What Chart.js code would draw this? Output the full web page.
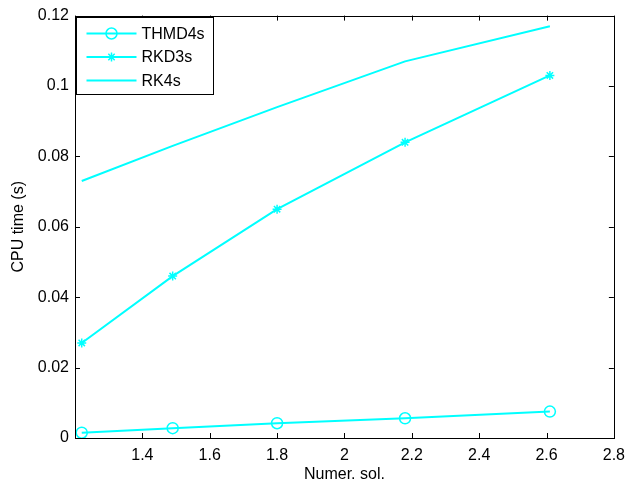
<!DOCTYPE html>
<html>
<head>
<meta charset="utf-8">
<script src="https://cdn.jsdelivr.net/npm/chart.js@4.4.0/dist/chart.umd.min.js"></script>
<style>
  html, body { margin: 0; padding: 0; background: #fff; }
  #wrap { width: 633px; height: 486px; }
</style>
</head>
<body>
<div id="wrap"><canvas id="cpuChart" width="633" height="486"></canvas></div>
<script>
// data
const xValues = [1.22, 1.49, 1.80, 2.18, 2.61];
const thmd4s = [0.0015, 0.0028, 0.0042, 0.0056, 0.0075];
const rkd3s = [0.027, 0.046, 0.065, 0.084, 0.103];
const rk4s = [0.073, 0.083, 0.094, 0.107, 0.117];
const seriesNames = ['THMD4s', 'RKD3s', 'RK4s'];

const cyan = '#00ffff';
const fontFamily = '"Liberation Sans", Arial, Helvetica, sans-serif';
const fontSize = 16;

function toPoints(ys) {
    return xValues.map((x, i) => ({ x: x, y: ys[i] }));
}

// box round the axes with ticks pointing inwards (matlab style)
const frame = {
    id: 'frame',
    afterDatasetsDraw(chart) {
        const { ctx, chartArea: a, scales } = chart;
        ctx.save();
        ctx.strokeStyle = '#000';
        ctx.lineWidth = 1;
        ctx.beginPath();
        const len = 5;
        scales.x.ticks.forEach(t => {
            const px = Math.round(scales.x.getPixelForValue(t.value)) + 0.5;
            ctx.moveTo(px, a.bottom); ctx.lineTo(px, a.bottom - len);
            ctx.moveTo(px, a.top); ctx.lineTo(px, a.top + len);
        });
        scales.y.ticks.forEach(t => {
            const py = Math.round(scales.y.getPixelForValue(t.value)) + 0.5;
            ctx.moveTo(a.left, py); ctx.lineTo(a.left + len, py);
            ctx.moveTo(a.right, py); ctx.lineTo(a.right - len, py);
        });
        ctx.stroke();
        ctx.strokeRect(Math.round(a.left) + 0.5, Math.round(a.top) + 0.5,
            Math.round(a.right - a.left), Math.round(a.bottom - a.top));
        ctx.restore();
    }
};

// legend box in the upper left corner
const legendBox = {
    id: 'legendBox',
    afterDraw(chart) {
        const { ctx, chartArea: a } = chart;
        const x0 = Math.round(a.left) + 1.5, y0 = Math.round(a.top) + 1.5;
        ctx.save();
        ctx.fillStyle = '#fff';
        ctx.fillRect(x0, y0, 137, 77);
        ctx.strokeStyle = '#000';
        ctx.lineWidth = 1;
        ctx.strokeRect(x0, y0, 137, 77);
        ctx.font = fontSize + 'px ' + fontFamily;
        ctx.textBaseline = 'middle';
        chart.data.datasets.forEach((ds, i) => {
            const y = y0 + 16 + i * 23.5;
            ctx.strokeStyle = ds.borderColor;
            ctx.lineWidth = ds.borderWidth;
            ctx.beginPath();
            ctx.moveTo(x0 + 10, y); ctx.lineTo(x0 + 60, y);
            ctx.stroke();
            const mx = x0 + 35;
            ctx.lineWidth = 1.5;
            if (ds.pointStyle === 'circle' && ds.pointRadius > 0) {
                ctx.beginPath();
                ctx.arc(mx, y, ds.pointRadius, 0, Math.PI * 2);
                ctx.stroke();
            } else if (ds.pointStyle === 'star' && ds.pointRadius > 0) {
                const r = ds.pointRadius;
                ctx.beginPath();
                for (let k = 0; k < 4; k++) {
                    const ang = k * Math.PI / 4;
                    ctx.moveTo(mx - r * Math.cos(ang), y - r * Math.sin(ang));
                    ctx.lineTo(mx + r * Math.cos(ang), y + r * Math.sin(ang));
                }
                ctx.stroke();
            }
            ctx.fillStyle = '#000';
            ctx.fillText(ds.label, x0 + 65, y + 1);
        });
        ctx.restore();
    }
};

const config = {
    type: 'line',
    data: {
        datasets: [
            {
                label: seriesNames[0],
                data: toPoints(thmd4s),
                borderColor: cyan,
                borderWidth: 2,
                pointStyle: 'circle',
                pointRadius: 5.5,
                pointBorderWidth: 1.5,
                pointBorderColor: cyan,
                pointBackgroundColor: 'rgba(0,0,0,0)'
            },
            {
                label: seriesNames[1],
                data: toPoints(rkd3s),
                borderColor: cyan,
                borderWidth: 2,
                pointStyle: 'star',
                pointRadius: 4.5,
                pointBorderWidth: 1.5,
                pointBorderColor: cyan,
                pointBackgroundColor: 'rgba(0,0,0,0)'
            },
            {
                label: seriesNames[2],
                data: toPoints(rk4s),
                borderColor: cyan,
                borderWidth: 2,
                pointRadius: 0
            }
        ]
    },
    options: {
        responsive: false,
        animation: false,
        events: [],
        layout: { padding: { top: 8, right: 12, left: 0, bottom: 0 } },
        plugins: {
            legend: { display: false },
            tooltip: { enabled: false }
        },
        scales: {
            x: {
                type: 'linear',
                min: 1.2,
                max: 2.8,
                border: { display: false },
                grid: { display: false, drawTicks: false },
                ticks: {
                    stepSize: 0.2,
                    padding: 8,
                    color: '#000',
                    font: { family: fontFamily, size: fontSize },
                    callback: v => (Math.abs(v - 1.2) < 1e-6 ? '' : String(Number(v.toFixed(1))))
                },
                title: {
                    display: true,
                    text: 'Numer. sol.',
                    color: '#000',
                    font: { family: fontFamily, size: fontSize },
                    padding: { top: 0, bottom: 2 }
                },
                afterFit: s => { s.height = 48; }
            },
            y: {
                min: 0,
                max: 0.12,
                border: { display: false },
                grid: { display: false, drawTicks: false },
                ticks: {
                    stepSize: 0.02,
                    padding: 6,
                    color: '#000',
                    font: { family: fontFamily, size: fontSize },
                    callback: v => String(Number(v.toFixed(2)))
                },
                title: {
                    display: true,
                    text: 'CPU time (s)',
                    color: '#000',
                    font: { family: fontFamily, size: fontSize },
                    padding: { top: 9, bottom: 0 }
                },
                afterFit: s => { s.width = 75; }
            }
        }
    },
    plugins: [frame, legendBox]
};

window.addEventListener('load', () => {
    const el = document.getElementById('cpuChart');
    if (!el) {
        console.error('Chart element not found!');
        return;
    }
    new Chart(el.getContext('2d'), config);
});
</script>
</body>
</html>
